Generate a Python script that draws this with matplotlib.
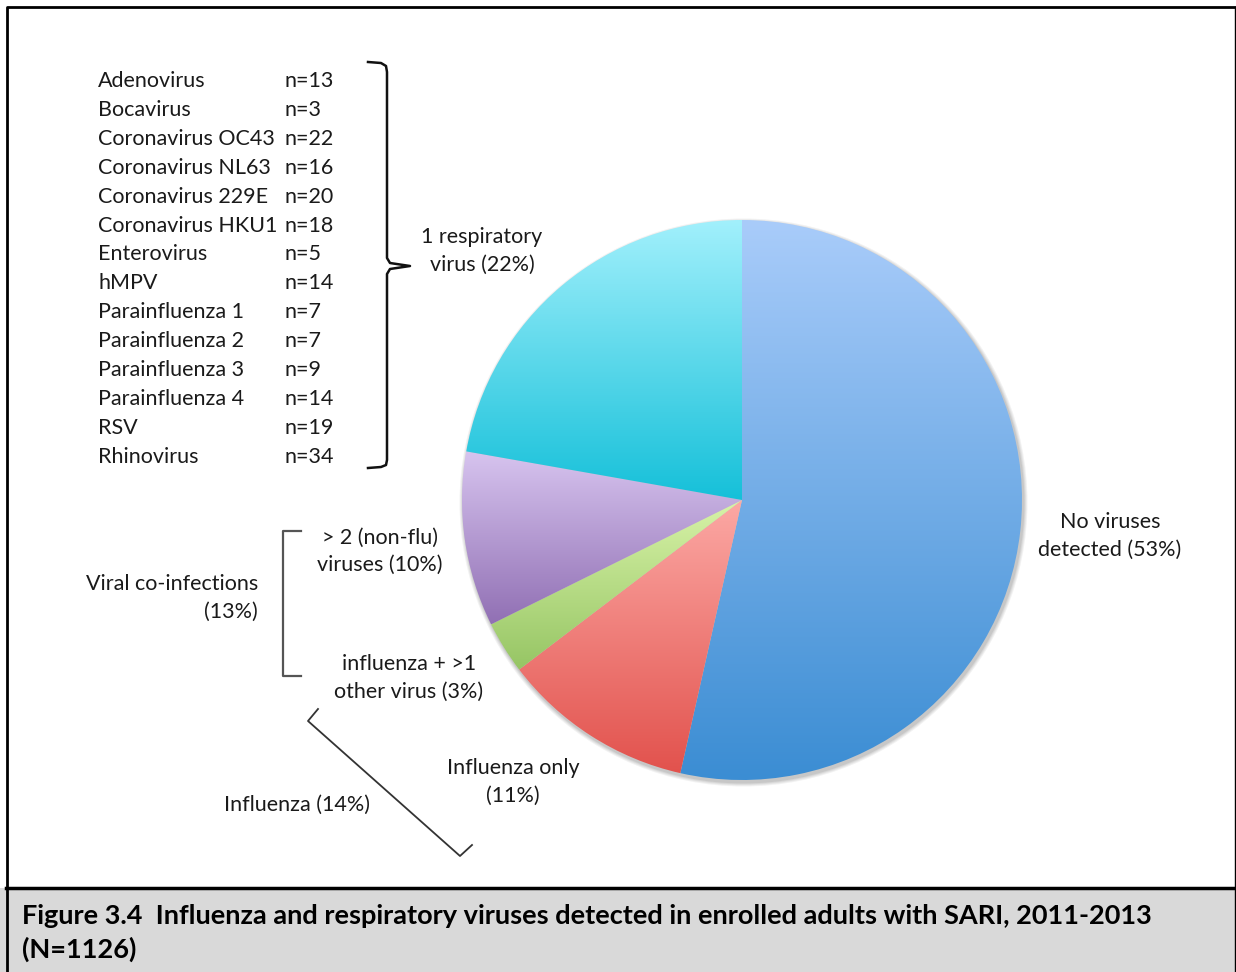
import matplotlib.pyplot as plt
import numpy as np
from matplotlib import font_manager
from matplotlib.colors import LinearSegmentedColormap
from matplotlib.patches import Rectangle, Circle

# Pie slices, clockwise from 12 o'clock
slice_labels = ["No viruses\ndetected (53%)", "Influenza only\n(11%)",
                "influenza + >1\nother virus (3%)", "> 2 (non-flu)\nviruses (10%)",
                "1 respiratory\nvirus (22%)"]
slice_pct = [53, 11, 3, 10, 22]
# gradient (top colour, bottom colour) for each slice
slice_grad = [("#a9ccfa", "#3b8dd3"), ("#fca9a5", "#e2524d"), ("#d8f3a8", "#96c564"),
              ("#d7c4ef", "#9170b4"), ("#a2f0fc", "#15c0d9")]

# single-virus detections listed beside the pie
virus_names = ["Adenovirus", "Bocavirus", "Coronavirus OC43", "Coronavirus NL63",
               "Coronavirus 229E", "Coronavirus HKU1", "Enterovirus", "hMPV",
               "Parainfluenza 1", "Parainfluenza 2", "Parainfluenza 3",
               "Parainfluenza 4", "RSV", "Rhinovirus"]
virus_counts = [13, 3, 22, 16, 20, 18, 5, 14, 7, 7, 9, 14, 19, 34]

caption = ("Figure 3.4  Influenza and respiratory viruses detected in enrolled adults with SARI, 2011-2013\n"
           "(N=1126)")

installed = {f.name for f in font_manager.fontManager.ttflist}
body_font = "Lato" if "Lato" in installed else "DejaVu Sans"

W, H = 1236, 972
fig = plt.figure(figsize=(W / 100, H / 100), dpi=100)
ax = fig.add_axes([0, 0, 1, 1])
ax.set_xlim(0, W)
ax.set_ylim(0, H)
ax.set_aspect("equal")
ax.axis("off")


def Y(py):
    return H - py


cx, cy, R = 742, Y(500), 280

# soft drop shadow under the pie
for i, a in enumerate([0.05, 0.05, 0.06, 0.07]):
    ax.add_patch(Circle((cx + 1.5, cy - 2.5), R + 4 - i, color="#000000", alpha=a, lw=0, zorder=1))

wedges, _ = ax.pie(slice_pct, startangle=90, counterclock=False, radius=R,
                   center=(cx, cy), frame=True, wedgeprops=dict(linewidth=0))
ax.set_xlim(0, W)
ax.set_ylim(0, H)
ax.axis("off")

for w, (top, bot) in zip(wedges, slice_grad):
    w.set_facecolor("none")
    ext = w.get_path().get_extents()
    cmap = LinearSegmentedColormap.from_list("g", [top, bot])
    grad = np.linspace(0, 1, 256).reshape(-1, 1)
    im = ax.imshow(grad, cmap=cmap, extent=(ext.x0, ext.x1, ext.y0, ext.y1),
                   origin="upper", aspect="auto", zorder=2, interpolation="bilinear")
    im.set_clip_path(w)

txt = dict(fontsize=15.5, family=body_font, color="#1a1a1a")
ls = 1.45

# slice labels
ax.text(1110, Y(536), slice_labels[0], ha="center", va="center", linespacing=ls, **txt)
ax.text(513, Y(782), slice_labels[1], ha="center", va="center", linespacing=ls, **txt)
ax.text(409, Y(678), slice_labels[2], ha="center", va="center", linespacing=ls, **txt)
ax.text(380, Y(551), slice_labels[3], ha="center", va="center", linespacing=ls, **txt)
ax.text(482, Y(251), slice_labels[4], ha="center", va="center", linespacing=ls, **txt)
ax.text(258, Y(598), "Viral co-infections\n(13%)", ha="right", va="center", multialignment="right",
        linespacing=ls, **txt)
ax.text(297, Y(805), "Influenza (14%)", ha="center", va="center", **txt)

# virus list
for i, (name, n) in enumerate(zip(virus_names, virus_counts)):
    yy = Y(81 + i * 28.9)
    ax.text(98, yy, name, ha="left", va="center", **txt)
    ax.text(285, yy, f"n={n}", ha="left", va="center", **txt)

# curly brace grouping the single-virus list
bx = [368, 381, 386, 387, 387, 390, 410, 390, 387, 387, 386, 381, 368]
by = [62, 63, 66, 72, 258, 263, 266, 269, 274, 460, 465, 467, 468]
ax.plot(bx, [Y(v) for v in by], color="#111111", lw=1.8, solid_joinstyle="round", zorder=3)

# square bracket for co-infections
ax.plot([301, 283, 283, 301], [Y(531), Y(531), Y(676), Y(676)], color="#555555", lw=1.6, zorder=3)

# angled bracket for all influenza
ax.plot([318, 308, 460, 472], [Y(709), Y(721), Y(856), Y(845)], color="#333333", lw=1.3, zorder=3)

# caption band
ax.add_patch(Rectangle((0, 0), W, Y(888), facecolor="#d9d9d9", edgecolor="none", zorder=0))
ax.plot([6, W], [Y(888), Y(888)], color="black", lw=2.5, zorder=4)
ax.text(22, Y(933), caption, ha="left", va="center", fontsize=19.5, fontweight="bold",
        family=body_font, color="black", linespacing=1.45, zorder=5)

# outer frame
ax.plot([7, 7, W - 1], [0, Y(7), Y(7)], color="black", lw=2, zorder=4)
ax.plot([W - 1, W - 1], [Y(7), 0], color="black", lw=1, zorder=4)

fig.savefig("out.png", dpi=100)
